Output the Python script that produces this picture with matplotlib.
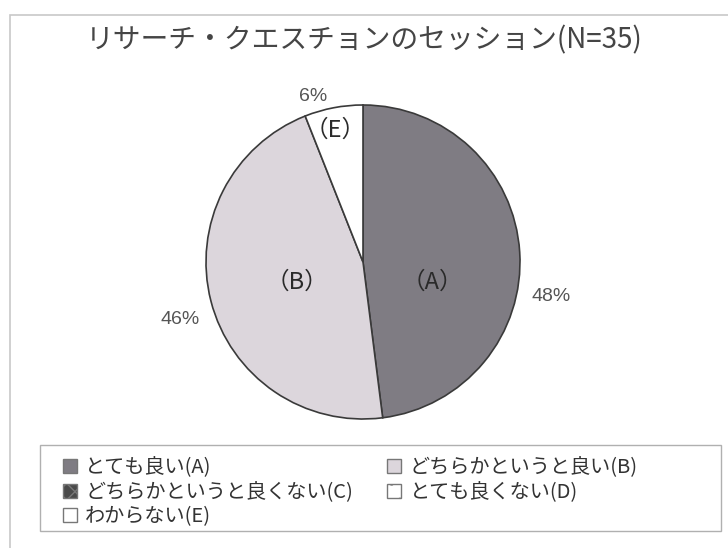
import numpy as np
import matplotlib.pyplot as plt
from matplotlib.patches import Patch, Rectangle

plt.rcParams['font.family'] = ['Noto Sans CJK JP', 'DejaVu Sans']
plt.rcParams['hatch.color'] = '#cccccc'

# survey answers, share in percent
codes = ['A', 'B', 'C', 'D', 'E']
answers = ['とても良い', 'どちらかというと良い', 'どちらかというと良くない',
           'とても良くない', 'わからない']
shares = [48, 46, 0, 0, 6]
title = 'リサーチ・クエスチョンのセッション(N=35)'

face = {'A': '#7f7c83', 'B': '#dcd6dc', 'C': '#4a4a4a', 'D': '#ffffff', 'E': '#ffffff'}
hatch = {'C': 'xx', 'D': '.'}

W, H = 728, 548
fig = plt.figure(figsize=(W / 100, H / 100), dpi=100)
fig.patch.set_facecolor('white')

# outer chart frame (runs off the right and bottom)
fig.patches.append(Rectangle((10 / W, -0.1), 1.0, 1 - 15 / H + 0.1,
                             transform=fig.transFigure, fill=False,
                             edgecolor='#c8c8c8', linewidth=1.2))

fig.text(0.5, 1 - 40 / H, title, ha='center', va='center',
         fontsize=20, color='#454545')

cx, cy, r = 363, 262, 157
ax = fig.add_axes([(cx - r) / W, (H - cy - r) / H, 2 * r / W, 2 * r / H])

shown = [i for i, v in enumerate(shares) if v > 0]
wedges, _ = ax.pie([shares[i] for i in shown], colors=[face[codes[i]] for i in shown],
                   startangle=90, counterclock=False, radius=1,
                   wedgeprops=dict(edgecolor='#3a3a3a', linewidth=1.2))
ax.set_xlim(-1, 1)
ax.set_ylim(-1, 1)
ax.set_aspect('equal')
ax.axis('off')

# label placement per wedge: (inner angle shift, inner radius, outer angle shift, outer radius)
place = {'A': (-20, 0.46, -14, 1.22), 'B': (3, 0.44, 3, 1.22), 'E': (1, 0.86, 6, 1.1)}
for w, i in zip(wedges, shown):
    c = codes[i]
    mid = (w.theta1 + w.theta2) / 2
    da, ri, do, ro = place[c]
    a = np.deg2rad(mid + da)
    ax.text(ri * np.cos(a), ri * np.sin(a), f'（{c}）', ha='center', va='center',
            fontsize=17, color='#2a2a2a', clip_on=False)
    a = np.deg2rad(mid + do)
    ax.text(ro * np.cos(a), ro * np.sin(a), f'{shares[i]}%', ha='center', va='center',
            fontsize=14, color='#555555', family='Liberation Sans', clip_on=False)

# legend box
fig.patches.append(Rectangle((40 / W, 1 - 531 / H), 681 / W, 86 / H,
                             transform=fig.transFigure, fill=False,
                             edgecolor='#b0b0b0', linewidth=1.0))

# legend: rows A/B, C/D, E
order = [0, 2, 4, 1, 3]
handles = [Patch(facecolor=face[codes[i]], edgecolor='#777777', hatch=hatch.get(codes[i], ''),
                 label=f'{answers[i]}({codes[i]})') for i in order]
leg = fig.legend(handles=handles, ncol=2, loc='upper left',
                 bbox_to_anchor=(53 / W, 1 - 447 / H),
                 fontsize=14.5, frameon=False, handlelength=0.7, handleheight=0.7,
                 handletextpad=0.4, labelspacing=0.18, borderpad=0.0,
                 columnspacing=1.7, labelcolor='#333333')

fig.savefig('out.png', dpi=100, facecolor='white')
